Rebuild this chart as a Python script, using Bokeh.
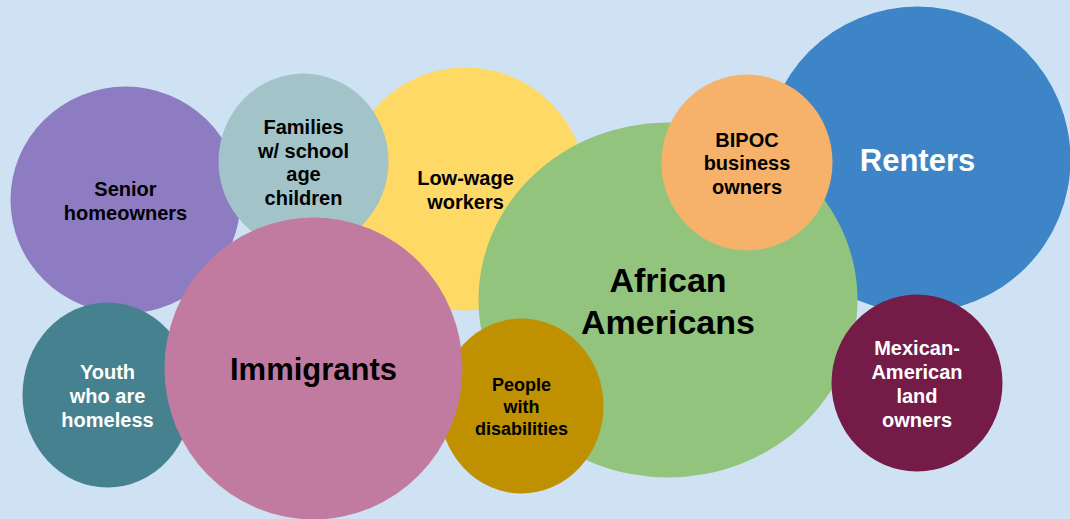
from bokeh.plotting import figure
from bokeh.models import ColumnDataSource, Range1d, GlobalInlineStyleSheet
from bokeh.core.properties import value
from bokeh.embed import file_html
from bokeh.resources import INLINE

# Bubble data (drawing order = back to front)
labels = ["Renters", "Senior\nhomeowners", "Low-wage\nworkers", "Families\nw/ school\nage\nchildren",
          "Youth\nwho are\nhomeless", "African\nAmericans", "People\nwith\ndisabilities", "Immigrants",
          "BIPOC\nbusiness\nowners", "Mexican-\nAmerican\nland\nowners"]
bx = [917, 125, 465, 303, 107, 667.5, 521, 313, 746.5, 916.5]
by = [159, 199.5, 188.5, 161, 394.5, 299.5, 405.5, 368, 162, 382.5]
bw = [306, 230, 242, 170, 170, 379, 164, 298, 171, 171]
bh = [306, 227, 243, 176, 185, 355, 175, 302, 176, 177]
fills = ["#3d85c6", "#8e7cc3", "#ffd966", "#a2c4c9", "#45818e", "#93c47d", "#bf9000", "#c27ba0",
         "#f6b26b", "#741b47"]
text_colors = ["#ffffff", "#000000", "#000000", "#000000", "#ffffff", "#000000", "#000000", "#000000",
               "#000000", "#ffffff"]
font_sizes = ["31px", "20px", "20px", "20px", "20px", "34px", "18px", "31px", "20px", "20px"]

BG = "#cfe2f3"

src = ColumnDataSource(dict(x=bx, y=by, w=bw, h=bh, fill=fills, label=labels,
                            tc=text_colors, fs=font_sizes))

p = figure(width=1070, height=519, output_backend="svg", toolbar_location=None,
           x_range=Range1d(0, 1070), y_range=Range1d(519, 0),
           min_border=0, background_fill_color=BG, border_fill_color=BG)
p.axis.visible = False
p.grid.visible = False
p.outline_line_color = None

p.ellipse(x="x", y="y", width="w", height="h", fill_color="fill", line_color=None, source=src)
p.text(x="x", y="y", text="label", text_color="tc", text_font_size="fs",
       text_font=value("Liberation Sans"), text_font_style="bold",
       text_align="center", text_baseline="middle", text_line_height=1.08,
       y_offset=1, source=src)

p.stylesheets = [GlobalInlineStyleSheet(
    css="html, body { margin: 0; padding: 0; overflow: hidden; background-color: %s; }" % BG)]

open("out.html", "w").write(file_html(p, INLINE))
